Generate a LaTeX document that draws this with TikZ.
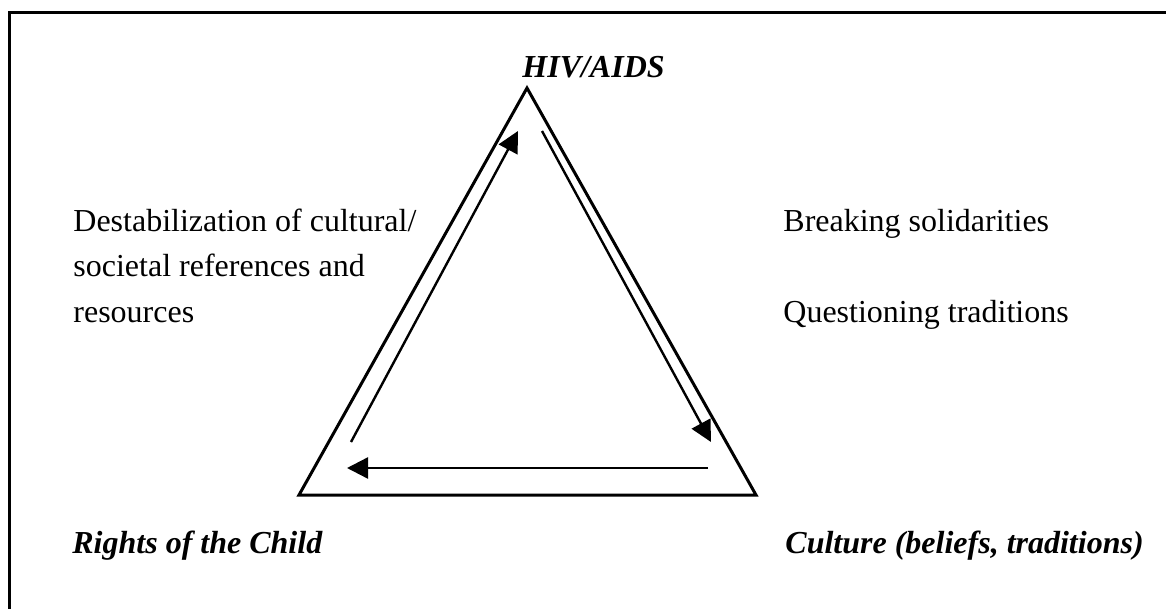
\documentclass[tikz,border=0pt]{standalone}
\usepackage{fontspec}
\setmainfont{Liberation Serif}
\usetikzlibrary{arrows.meta}
\begin{document}
\begin{tikzpicture}[x=0.5pt,y=-0.5pt,
  tri/.style={line width=1.5pt,line join=miter},
  flow/.style={line width=1.2pt,-{Triangle[length=10.5pt,width=10.5pt]}},
  frame/.style={line width=1.5pt},
  txt/.style={anchor=base west,inner sep=0pt,font=\fontsize{16}{19}\selectfont},
  lab/.style={txt,font=\fontsize{16}{19}\selectfont\bfseries\itshape}]
\useasboundingbox (0,0) rectangle (1166,609);
\draw[frame] (1166,13) -- (9,13) -- (9,609);
% triangle
\coordinate (A) at (527,88);
\coordinate (B) at (299,495);
\coordinate (C) at (756,495);
\draw[tri] (A) -- (B) -- (C) -- cycle;
% arrows
\coordinate (l1) at (351,442);
\coordinate (l2) at (518,131);
\coordinate (r1) at (542,131);
\coordinate (r2) at (711,442);
\coordinate (b1) at (708,468);
\coordinate (b2) at (347,468);
\draw[flow] (l1) -- (l2);
\draw[flow] (r1) -- (r2);
\draw[flow] (b1) -- (b2);
% labels
\node[lab] (hiv) at (522,78) {HIV/AIDS};
\node[lab] (rights) at (72,553) {Rights of the Child};
\node[lab] (culture) at (785,553) {Culture (beliefs, traditions)};
\node[txt] (d1) at (73,232) {Destabilization of cultural/};
\node[txt] (d2) at (73,277) {societal references and};
\node[txt] (d3) at (73,322) {resources};
\node[txt] (br) at (783,232) {Breaking solidarities};
\node[txt] (qu) at (783,322) {Questioning traditions};
\end{tikzpicture}
\end{document}
